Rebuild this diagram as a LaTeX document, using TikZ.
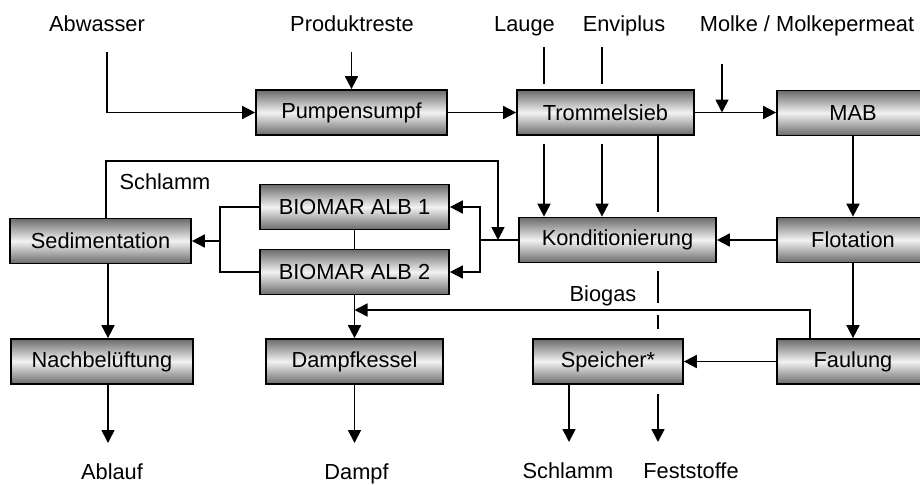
\documentclass[tikz,border=0pt]{standalone}
\usepackage{fontspec}
\setmainfont{Liberation Sans}
\usetikzlibrary{arrows.meta, calc, positioning}

\begin{document}
\begin{tikzpicture}[x=0.02cm, y=-0.02cm,
  font=\fontsize{12.4}{15}\selectfont,
  box/.style={draw, line width=1pt, top color=black!58, bottom color=black!58,
    middle color=black!5, minimum height=0.9cm, inner sep=0pt},
  flow/.style={line width=1pt, -{Triangle[length=7.4pt,width=7.4pt]}},
  pipe/.style={line width=1pt},
  lbl/.style={anchor=base}]
  % Frame
  \useasboundingbox (0,0) rectangle (920,484);
  \clip (0,0) rectangle (920,484);

  % Process units
  \node[box, minimum width=3.82cm] (pumpe) at (351.5,112.5) {Pumpensumpf};
  \node[box, minimum width=3.54cm] (sieb) at (605.5,112.5) {Trommelsieb};
  \node[box, minimum width=3.04cm] (mab) at (853,113) {MAB};
  \node[box, minimum width=3.94cm] (kond) at (617.5,240) {Konditionierung};
  \node[box, minimum width=3.04cm] (flot) at (853,240) {Flotation};
  \node[box, minimum width=3.62cm] (sedi) at (100.5,241) {Sedimentation};
  \node[box, minimum width=3.78cm] (albA) at (354.5,207) {BIOMAR ALB 1};
  \node[box, minimum width=3.78cm] (albB) at (354.5,272) {BIOMAR ALB 2};
  \node[box, minimum width=3.64cm] (nachb) at (102,361.5) {Nachbelüftung};
  \node[box, minimum width=3.54cm] (kessel) at (354.5,361.5) {Dampfkessel};
  \node[box, minimum width=3.0cm] (speicher) at (608,361.5) {Speicher*};
  \node[box, minimum width=3.04cm] (faul) at (853,361.5) {Faulung};

  % Inputs and outputs
  \node[lbl] (abw) at (97,31.5) {Abwasser};
  \node[lbl] (prod) at (352,31.5) {Produktreste};
  \node[lbl] (lauge) at (524.5,31.5) {Lauge};
  \node[lbl] (envi) at (624,31.5) {Enviplus};
  \node[lbl] (molke) at (807,31.5) {Molke / Molkepermeat};
  \node[lbl] (schlammA) at (165,189) {Schlamm};
  \node[lbl] (biogas) at (603,301) {Biogas};
  \node[lbl] (ablauf) at (112,479.5) {Ablauf};
  \node[lbl] (dampf) at (356.5,479.5) {Dampf};
  \node[lbl] (schlammB) at (568,478.5) {Schlamm};
  \node[lbl] (fest) at (691,478.5) {Feststoffe};

  % Free ends and junctions
  \coordinate (abwIn) at (107,52);
  \coordinate (laugeIn) at (544,47);
  \coordinate (enviIn) at (602,47);
  \coordinate (molkeIn) at (722,64);
  \coordinate (split) at (480,240);
  \coordinate (rueck) at (498,240);
  \coordinate (merge) at (220,241);
  \coordinate (gasT) at (354.5,310);
  \coordinate (ablaufEnd) at (108,443);
  \coordinate (dampfEnd) at (354.5,443);
  \coordinate (schlammEnd) at (569,442);
  \coordinate (festEnd) at (658,442);

  % Top row
  \draw[flow] (abwIn) |- (pumpe.west);
  \draw[flow] ($(pumpe.north)+(0,-37)$) -- (pumpe.north);
  \draw[flow] (pumpe.east) -- (pumpe.east -| sieb.west);
  \draw[flow] (sieb.east) -- (sieb.east -| mab.west);
  \draw[flow] (molkeIn) -- (molkeIn |- sieb.east);

  % Lauge and Enviplus pass behind the drum screen
  \draw[pipe] (laugeIn) -- ($(laugeIn |- sieb.north)+(0,-5)$);
  \draw[flow] ($(laugeIn |- sieb.south)+(0,8)$) -- (laugeIn |- kond.north);
  \draw[pipe] (enviIn) -- ($(enviIn |- sieb.north)+(0,-5)$);
  \draw[flow] ($(enviIn |- sieb.south)+(0,8)$) -- (enviIn |- kond.north);

  % Right column
  \draw[flow] (mab) -- (flot);
  \draw[flow] (flot) -- (kond);
  \draw[flow] (flot) -- (faul);
  \draw[flow] (faul) -- (speicher);
  \draw[flow] ($(faul.north)+(-43,0)$) |- (gasT);

  % Biology
  \draw[pipe] (kond.west) -- (split);
  \draw[flow] (split) |- (albA.east);
  \draw[flow] (split) |- (albB.east);
  \draw[flow] (sedi.north -| 106,0) -- ++(0,-57) -| (rueck);
  \draw[pipe] (albA.west) -| (merge) |- (albB.west);
  \draw[flow] (merge) -- (sedi.east);
  \draw[pipe] (albA.south) -- (albB.north);
  \draw[flow] (albB.south) -- (kessel.north);

  % Outlets
  \draw[flow] (sedi.south -| ablaufEnd) -- (nachb.north -| ablaufEnd);
  \draw[flow] (nachb.south -| ablaufEnd) -- (ablaufEnd);
  \draw[flow] (kessel.south) -- (dampfEnd);
  \draw[flow] (speicher.south -| schlammEnd) -- (schlammEnd);

  % Feststoffe line, broken where it passes behind
  \draw[pipe] (sieb.south -| festEnd) -- ($(kond.north -| festEnd)+(0,-5)$);
  \draw[pipe] ($(kond.south -| festEnd)+(0,8)$) -- ($(gasT -| festEnd)+(0,-7)$);
  \draw[pipe] ($(gasT -| festEnd)+(0,5)$) -- ($(speicher.north -| festEnd)+(0,-9)$);
  \draw[flow] ($(speicher.south -| festEnd)+(0,9)$) -- (festEnd);
\end{tikzpicture}
\end{document}
